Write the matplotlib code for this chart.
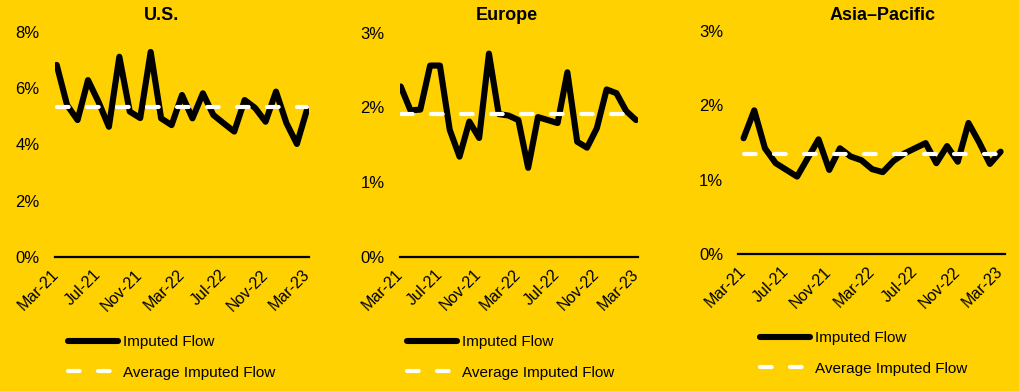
import numpy as np
import pandas as pd
from matplotlib import pyplot as plt

# monthly points, Mar-21 .. Mar-23
months = pd.date_range('2021-03-01', '2023-03-01', freq='MS')
month_labels = [m.strftime('%b-%y') for m in months]

# imputed flow (%)
us_flow = [6.83, 5.40, 4.87, 6.29, 5.52, 4.63, 7.12, 5.17, 4.94, 7.29,
           4.93, 4.69, 5.76, 4.93, 5.82, 5.05, 4.75, 4.46, 5.58, 5.30,
           4.81, 5.88, 4.76, 4.02, 5.28]
us_avg = 5.34

europe_flow = [2.28, 1.96, 1.97, 2.56, 2.56, 1.70, 1.34, 1.81, 1.59, 2.72,
               1.91, 1.89, 1.83, 1.19, 1.87, 1.83, 1.79, 2.47, 1.54, 1.46,
               1.72, 2.24, 2.19, 1.95, 1.83]
europe_avg = 1.905

apac_flow = [1.555, 1.93, 1.42, 1.22, 1.13, 1.04, 1.29, 1.54, 1.13, 1.42,
             1.31, 1.26, 1.14, 1.10, 1.25, 1.35, 1.42, 1.49, 1.22, 1.45,
             1.24, 1.76, 1.50, 1.21, 1.375]
apac_avg = 1.344

titles = ['U.S.', 'Europe', 'Asia–Pacific']
flows = [us_flow, europe_flow, apac_flow]
avgs = [us_avg, europe_avg, apac_avg]
yticks = [[0, 2, 4, 6, 8], [0, 1, 2, 3], [0, 1, 2, 3]]

BG = '#FFD100'
W, H = 1020, 391

# layout in pixels: left, top, right, bottom of plot area
rects = [(55, 32, 309, 257), (400, 32.7, 637.7, 256.7), (738.3, 30.7, 1005, 254)]
xlims = [(-0.16, 24.16), (-0.07, 24.17), (-0.49, 24.41)]
title_x = [162, 507, 883]
legend_xy = [(68, 335), (407, 335), (760, 331)]

plt.rcParams['font.family'] = ['Liberation Sans', 'DejaVu Sans']

fig = plt.figure(figsize=(W / 100, H / 100), dpi=100, facecolor=BG)

x = np.arange(len(months))
for k in range(3):
    l, t, r, b = rects[k]
    ax = fig.add_axes([l / W, 1 - b / H, (r - l) / W, (b - t) / H])
    ax.set_facecolor(BG)

    ax.plot(x, flows[k], color='black', lw=4.4, solid_joinstyle='round',
            solid_capstyle='round', label='Imputed Flow', zorder=3)
    ax.plot(x, [avgs[k]] * len(x), color='white', lw=3.0, dashes=(2.8, 4.4),
            dash_capstyle='round', label='Average Imputed Flow', zorder=4)

    ax.set_xlim(*xlims[k])
    ax.set_ylim(0, yticks[k][-1])
    ax.set_yticks(yticks[k])
    ax.set_yticklabels(['%d%%' % v for v in yticks[k]])
    ax.set_xticks(x[::4])
    ax.set_xticklabels(month_labels[::4], rotation=45, ha='right',
                       va='center', rotation_mode='anchor')
    ax.tick_params(length=0, colors='black')
    ax.tick_params(axis='y', pad=11, labelsize=12)
    ax.tick_params(axis='x', pad=11, labelsize=11.5)

    for s in ['top', 'right', 'left']:
        ax.spines[s].set_visible(False)
    ax.spines['bottom'].set_linewidth(1.6)
    ax.spines['bottom'].set_color('black')

    fig.text(title_x[k] / W, 1 - 15 / H, titles[k], ha='center', va='center',
             fontsize=13, fontweight='bold', color='black')

    lx, ly = legend_xy[k]
    ax.legend(loc='upper left', bbox_to_anchor=(lx / W, 1 - ly / H),
              bbox_transform=fig.transFigure, frameon=False,
              handlelength=3.3, handletextpad=0.3, labelspacing=1.1,
              borderpad=0, borderaxespad=0,
              prop={'family': ['Liberation Sans', 'DejaVu Sans'], 'size': 11})

fig.savefig('out.png', dpi=100, facecolor=BG)
